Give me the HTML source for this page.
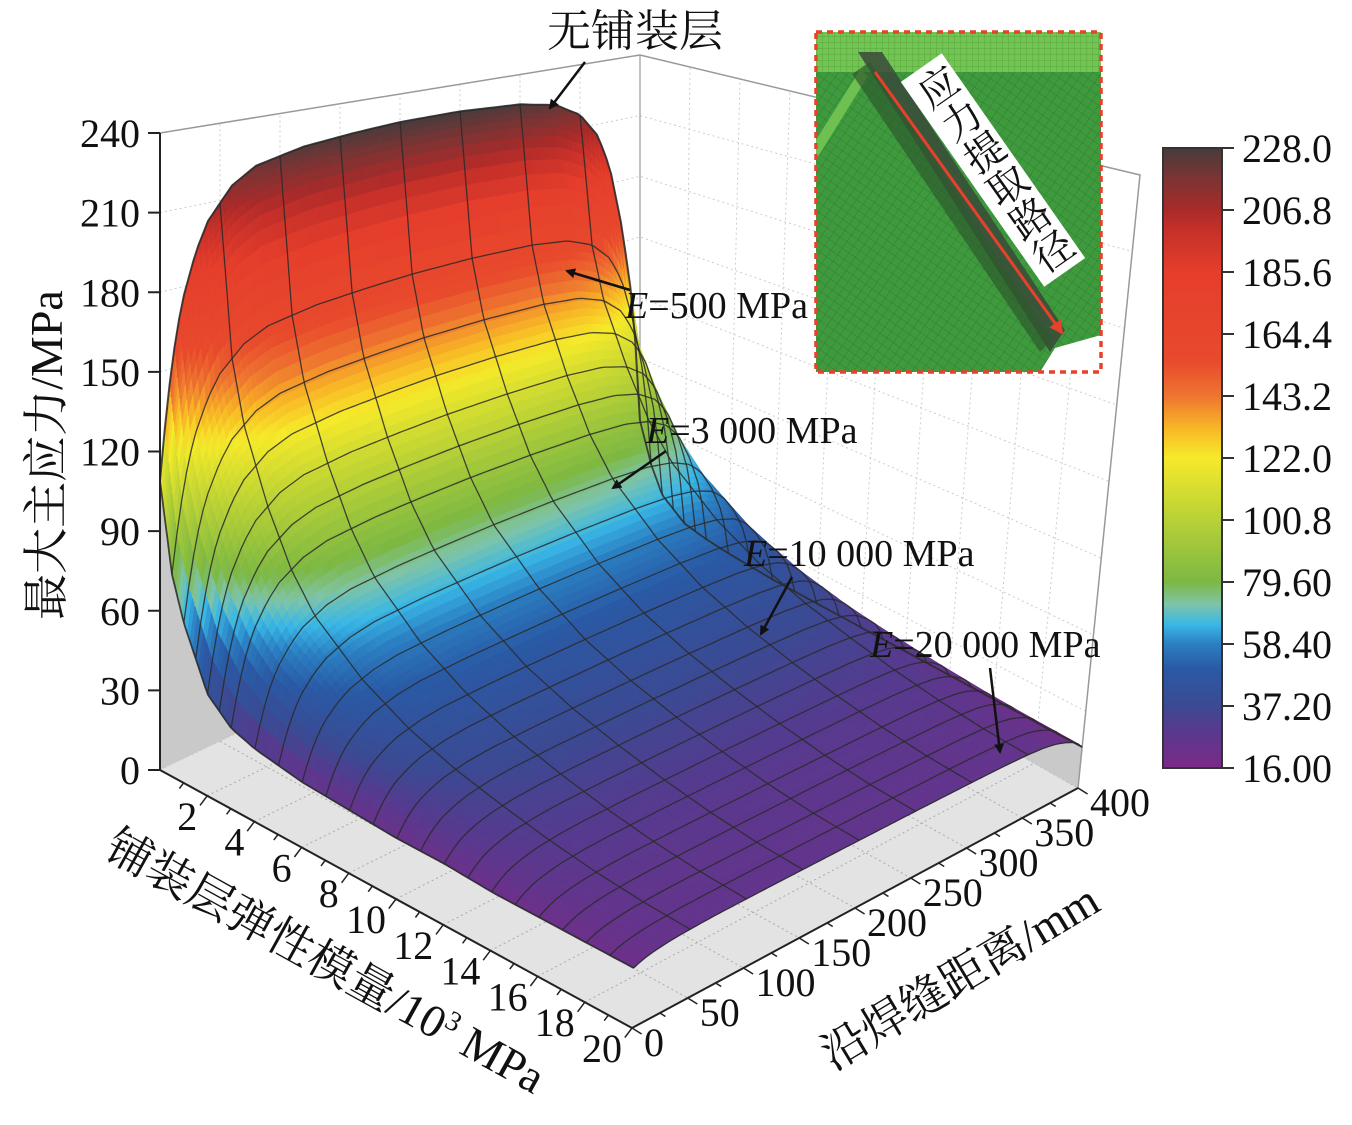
<!DOCTYPE html>
<html><head><meta charset="utf-8">
<style>
html,body{margin:0;padding:0;background:#fff;}
svg{display:block;}
.num{font-family:"Liberation Serif","Noto Serif CJK SC",serif;font-size:40px;fill:#111;}
.cjk{font-family:"Liberation Serif","Noto Serif CJK SC",serif;fill:#111;}
</style></head>
<body>
<svg id="chart" width="1352" height="1125" viewBox="0 0 1352 1125" xmlns="http://www.w3.org/2000/svg">
<defs>
<marker id="ah" markerWidth="10" markerHeight="10" refX="8" refY="5" orient="auto" markerUnits="userSpaceOnUse"><path d="M0,0 L10,5 L0,10 z" fill="#111"/></marker>
<marker id="ahr" markerWidth="14" markerHeight="14" refX="12" refY="7" orient="auto" markerUnits="userSpaceOnUse"><path d="M0,0 L14,7 L0,14 z" fill="#e8402c"/></marker>
<linearGradient id="cbar" x1="0" y1="1" x2="0" y2="0"></linearGradient>
<pattern id="mesh" width="8" height="8" patternUnits="userSpaceOnUse" patternTransform="rotate(35)"><rect width="8" height="8" fill="#3f9a3e"/><path d="M0,0 L8,0 M0,0 L0,8" stroke="#2f7f30" stroke-width="1"/></pattern>
<pattern id="mesh2" width="6" height="6" patternUnits="userSpaceOnUse"><rect width="6" height="6" fill="#74c454"/><path d="M0,0 L6,0 M0,0 L0,6" stroke="#55a73d" stroke-width="1"/></pattern>
</defs>
<g id="walls"></g>
<g id="surface"></g>
<g id="grid"></g>
<g id="axes"></g>

<text class="cjk" x="0" y="0" font-size="46" transform="translate(62,455) rotate(-90)" text-anchor="middle">最大主应力/MPa</text>
<text class="cjk" x="0" y="0" font-size="46" transform="translate(318,975) rotate(29)" text-anchor="middle">铺装层弹性模量/10<tspan font-size="28" dy="-16">3</tspan><tspan dy="16"> MPa</tspan></text>
<text class="cjk" x="0" y="0" font-size="46" transform="translate(968,990) rotate(-31)" text-anchor="middle">沿焊缝距离/mm</text>

<g>
<text class="cjk" x="635" y="46" font-size="44" text-anchor="middle">无铺装层</text>
<line x1="585" y1="62" x2="550" y2="108" stroke="#111" stroke-width="2.5" marker-end="url(#ah)"/>
<text class="cjk" x="625" y="318" font-size="38"><tspan font-style="italic">E</tspan>=500 MPa</text>
<line x1="630" y1="290" x2="567" y2="271" stroke="#111" stroke-width="2.5" marker-end="url(#ah)"/>
<text class="cjk" x="646" y="443" font-size="38"><tspan font-style="italic">E</tspan>=3 000 MPa</text>
<line x1="666" y1="451" x2="613" y2="488" stroke="#111" stroke-width="2.5" marker-end="url(#ah)"/>
<text class="cjk" x="744" y="566" font-size="38"><tspan font-style="italic">E</tspan>=10 000 MPa</text>
<line x1="792" y1="577" x2="761" y2="634" stroke="#111" stroke-width="2.5" marker-end="url(#ah)"/>
<text class="cjk" x="870" y="657" font-size="38"><tspan font-style="italic">E</tspan>=20 000 MPa</text>
<line x1="990" y1="668" x2="1000" y2="752" stroke="#111" stroke-width="2.5" marker-end="url(#ah)"/>
</g>

<g>
<rect x="816" y="32" width="285" height="340" fill="url(#mesh)"/>
<rect x="816" y="32" width="285" height="40" fill="url(#mesh2)"/>
<polygon points="816,140 860,70 868,76 816,160" fill="#6ec050"/>
<polygon points="858,52 882,52 1065,330 1050,352" fill="#3a4a3a" opacity="0.85"/>
<polygon points="852,74 870,62 1052,340 1040,352" fill="#2d5a2e" opacity="0.7"/>
<polygon points="1055,348 1101,335 1101,372 1040,372" fill="#fff"/>
<line x1="875" y1="72" x2="1062" y2="333" stroke="#e8402c" stroke-width="3" marker-end="url(#ahr)"/>
<g transform="translate(993,170) rotate(-35)">
<rect x="-25" y="-125" width="50" height="250" fill="#fff"/>
<text class="cjk" x="0" y="0" font-size="40" style="writing-mode:vertical-rl;" text-anchor="middle" dominant-baseline="central">应力提取路径</text>
</g>
<rect x="816" y="32" width="285" height="340" fill="none" stroke="#e8402c" stroke-width="3.5" stroke-dasharray="6,5"/>
</g>

<g id="colorbar"></g>
</svg>
<script>
// ---- data ----
const eVals      = [0, 0.5, 1, 2, 3, 4, 6, 8, 10, 12, 14, 16, 18, 20];          // 10^3 MPa
const peakByE    = [228, 165, 140, 112, 90, 75, 58, 47, 40, 35, 31, 28, 26, 25]; // MPa plateau
const leftByE    = [109, 76, 60, 38, 30, 27, 24, 23, 22, 22, 21, 21, 21, 21];     // MPa at d=0
const rightByE   = [59, 40, 28, 20, 18, 17, 16, 16, 16, 16, 16, 16, 16, 16];      // MPa at d=400
const dValsL     = [0, 5, 10, 15, 20, 30, 40, 60, 80, 120, 160, 200];
const dShapeL    = [0, 0.2, 0.36, 0.48, 0.57, 0.7, 0.79, 0.89, 0.94, 0.975, 0.99, 1];
const dValsR     = [200, 250, 300, 330, 350, 365, 375, 385, 392, 397, 400];
const dShapeR    = [1, 1, 0.99, 0.97, 0.93, 0.86, 0.76, 0.58, 0.4, 0.2, 0];
const zTicks  = [0, 30, 60, 90, 120, 150, 180, 210, 240];
const eTicks  = [2, 4, 6, 8, 10, 12, 14, 16, 18, 20];
const dTicks  = [0, 50, 100, 150, 200, 250, 300, 350, 400];
const eGrid   = [0, 0.5, 1, 1.5, 2, 2.5, 3, 4, 5, 6, 7, 8, 9, 10, 11, 12, 13, 14, 15, 16, 17, 18, 19, 20];
const dGrid   = [50, 100, 150, 200, 250, 300, 350];
const cbTicks = ["228.0","206.8","185.6","164.4","143.2","122.0","100.8","79.60","58.40","37.20","16.00"];
const cmapVals = [16, 30, 37.2, 50, 58.4, 65, 72, 79.6, 100.8, 122, 132, 143.2, 155, 185.6, 200, 206.8, 218, 228];
const cmapCols = ["#7b2a87","#553b8f","#3b4a93","#2a5aa5","#2b7fc2","#39b7e6","#7fc4a8","#7db843","#b8d136","#f6ea2a","#f8b826","#ee7530","#e84a2c","#e53e2c","#c53029","#a92b2a","#7a3434","#473c3c"];

const NS = "http://www.w3.org/2000/svg";
function mk(tag, attrs, parent){const e=document.createElementNS(NS,tag);for(const k in attrs)e.setAttribute(k,attrs[k]);parent.appendChild(e);return e;}
function lin(xs, ys, x){if(x<=xs[0])return ys[0];for(let i=1;i<xs.length;i++){if(x<=xs[i]){const t=(x-xs[i-1])/(xs[i]-xs[i-1]);return ys[i-1]+t*(ys[i]-ys[i-1]);}}return ys[ys.length-1];}
function zAt(E,d){const p=lin(eVals,peakByE,E);
  if(d<=200){const r=lin(eVals,leftByE,E);return r+(p-r)*lin(dValsL,dShapeL,d);}
  const r=lin(eVals,rightByE,E);return r+(p-r)*lin(dValsR,dShapeR,d);}

const A=[160,770],B=[632,1028],C=[1078,788],D=[640,540];
const At=[160,133],Bt=[650,342],Ct=[1140,175],Dt=[640,55];
const ZMAX=240;
function bil(P,Q,R,S,u,v){return[P[0]*(1-u)*(1-v)+Q[0]*u*(1-v)+R[0]*u*v+S[0]*(1-u)*v,P[1]*(1-u)*(1-v)+Q[1]*u*(1-v)+R[1]*u*v+S[1]*(1-u)*v];}
function proj(E,d,z){const u=E/20,v=d/400;const f=bil(A,B,C,D,u,v),t=bil(At,Bt,Ct,Dt,u,v);const w=z/ZMAX;return[f[0]+(t[0]-f[0])*w,f[1]+(t[1]-f[1])*w];}
function hex(c){return[parseInt(c.slice(1,3),16),parseInt(c.slice(3,5),16),parseInt(c.slice(5,7),16)];}
function cmap(z){z=Math.max(16,Math.min(228,z));let i=1;while(i<cmapVals.length-1&&z>cmapVals[i])i++;const t=(z-cmapVals[i-1])/(cmapVals[i]-cmapVals[i-1]);const a=hex(cmapCols[i-1]),b=hex(cmapCols[i]);return"rgb("+a.map((x,k)=>Math.round(x+(b[k]-x)*t)).join(",")+")";}
function pts(arr){return arr.map(p=>p[0].toFixed(1)+","+p[1].toFixed(1)).join(" ");}

// ---- walls & floor ----
const walls=document.getElementById("walls");
const wallL=mk("polygon",{points:pts([A,D,Dt,At]),fill:"#fff",stroke:"none"},walls);


const wallR=mk("polygon",{points:pts([D,C,Ct,Dt]),fill:"#fff",stroke:"none"},walls);


const floor=mk("polygon",{points:pts([A,B,C,D]),fill:"#e3e3e3",stroke:"none"},walls);


zTicks.forEach(z=>{mk("polyline",{points:pts([proj(0,0,z),proj(0,400,z),proj(20,400,z)]),fill:"none",stroke:"#ccc","stroke-width":1,"stroke-dasharray":"2,3"},walls);});
dTicks.forEach(d=>{mk("line",{x1:proj(0,d,0)[0],y1:proj(0,d,0)[1],x2:proj(0,d,240)[0],y2:proj(0,d,240)[1],stroke:"#ccc","stroke-width":1,"stroke-dasharray":"2,3"},walls);
  mk("line",{x1:proj(0,d,0)[0],y1:proj(0,d,0)[1],x2:proj(20,d,0)[0],y2:proj(20,d,0)[1],stroke:"#aaa","stroke-width":1,"stroke-dasharray":"2,3"},walls);});
eTicks.forEach(e=>{mk("line",{x1:proj(e,400,0)[0],y1:proj(e,400,0)[1],x2:proj(e,400,240)[0],y2:proj(e,400,240)[1],stroke:"#ccc","stroke-width":1,"stroke-dasharray":"2,3"},walls);
  mk("line",{x1:proj(e,0,0)[0],y1:proj(e,0,0)[1],x2:proj(e,400,0)[0],y2:proj(e,400,0)[1],stroke:"#aaa","stroke-width":1,"stroke-dasharray":"2,3"},walls);});
const dS=[];for(let d=0;d<=400;d+=4)dS.push(d);
const eS=[];for(let i=0;i<=90;i++)eS.push(20*Math.pow(i/90,1.9));
const pL=dS.map(d=>proj(0,d,zAt(0,d)));pL.push(proj(0,400,0));pL.push(proj(0,0,0));
const projL=mk("polygon",{points:pts(pL),fill:"#c9c9c9"},walls);


const pR=eS.map(e=>proj(e,400,zAt(e,400)));pR.push(proj(20,400,0));pR.push(proj(0,400,0));
const projR=mk("polygon",{points:pts(pR),fill:"#c9c9c9"},walls);


mk("polyline",{points:pts([A,At,Dt,Ct,C]),fill:"none",stroke:"#999","stroke-width":1.5},walls);
mk("line",{x1:D[0],y1:D[1],x2:Dt[0],y2:Dt[1],stroke:"#999","stroke-width":1.2},walls);

// ---- surface ----
const surf=document.getElementById("surface");
for(let i=0;i<eS.length-1;i++){
  for(let j=dS.length-2;j>=0;j--){
    const e0=eS[i],e1=eS[i+1],d0=dS[j],d1=dS[j+1];
    const z00=zAt(e0,d0),z01=zAt(e0,d1),z10=zAt(e1,d0),z11=zAt(e1,d1);
    const c=cmap((z00+z01+z10+z11)/4);
    const q=mk("polygon",{points:pts([proj(e0,d0,z00),proj(e0,d1,z01),proj(e1,d1,z11),proj(e1,d0,z10)]),fill:c,stroke:c,"stroke-width":0.8},surf);
    
    
  }
}
const grid=document.getElementById("grid");
eGrid.forEach(e=>{const l=mk("polyline",{points:pts(dS.map(d=>proj(e,d,zAt(e,d)))),fill:"none",stroke:"#2a2a2a","stroke-width":e==0?2:1.3,opacity:0.85},grid);
  
  });
dGrid.concat([0,400]).forEach(d=>{const l=mk("polyline",{points:pts(eS.map(e=>proj(e,d,zAt(e,d)))),fill:"none",stroke:"#2a2a2a","stroke-width":d==0||d==400?1.8:1.3,opacity:0.85},grid);
  
  });

// ---- axes ----
const ax=document.getElementById("axes");
mk("line",{x1:A[0],y1:A[1],x2:B[0],y2:B[1],stroke:"#222","stroke-width":2},ax);
mk("line",{x1:B[0],y1:B[1],x2:C[0],y2:C[1],stroke:"#222","stroke-width":2},ax);
mk("line",{x1:A[0],y1:A[1],x2:At[0],y2:At[1],stroke:"#222","stroke-width":2},ax);
zTicks.forEach(z=>{const p=proj(0,0,z);mk("line",{x1:p[0]-12,y1:p[1],x2:p[0],y2:p[1],stroke:"#222","stroke-width":2},ax);
  const t=mk("text",{x:p[0]-20,y:p[1]+14,"text-anchor":"end",class:"num"},ax);t.textContent=z;
  
  });
for(let e=1;e<=20;e++){const p=proj(e,0,0);const L=e%2==0?12:7;mk("line",{x1:p[0],y1:p[1],x2:p[0]-L*0.6,y2:p[1]+L*0.8,stroke:"#222","stroke-width":1.5},ax);}
eTicks.forEach(e=>{const p=proj(e,0,0);const t=mk("text",{x:p[0]-10,y:p[1]+34,"text-anchor":"end",class:"num"},ax);t.textContent=e;
  
  });
for(let d=0;d<=400;d+=25){const p=proj(20,d,0);const L=d%50==0?12:7;mk("line",{x1:p[0],y1:p[1],x2:p[0]+L*0.8,y2:p[1]+L*0.5,stroke:"#222","stroke-width":1.5},ax);}
dTicks.forEach(d=>{const p=proj(20,d,0);const t=mk("text",{x:p[0]+12,y:p[1]+28,"text-anchor":"start",class:"num"},ax);t.textContent=d;
  
  });

// ---- colorbar ----
const cb=document.getElementById("colorbar");
const g=document.getElementById("cbar");
cmapVals.forEach((v,k)=>{mk("stop",{offset:((v-16)/212).toFixed(4),"stop-color":cmapCols[k]},g);});
const cbx=1163,cby=148,cbw=59,cbh=620;
const cbr=mk("rect",{x:cbx,y:cby,width:cbw,height:cbh,fill:"url(#cbar)",stroke:"#333","stroke-width":2},cb);


cbTicks.forEach((s,k)=>{const y=cby+k*cbh/(cbTicks.length-1);mk("line",{x1:cbx+cbw,y1:y,x2:cbx+cbw+12,y2:y,stroke:"#333","stroke-width":2},cb);
  const t=mk("text",{x:cbx+cbw+20,y:y+14,class:"num"},cb);t.textContent=s;
  
  });
</script>
</body></html>
